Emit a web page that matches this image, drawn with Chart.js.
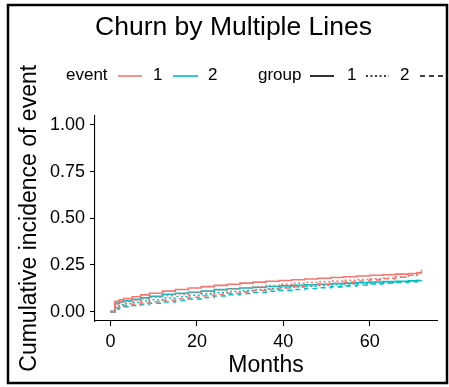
<!DOCTYPE html>
<html>
<head>
<meta charset="utf-8">
<script src="https://cdn.jsdelivr.net/npm/chart.js@4"></script>
<style>
html,body{margin:0;padding:0;background:#fff}
canvas{display:block}
</style>
</head>
<body>
<canvas id="c" width="449" height="387"></canvas>
<script>
const TITLE = 'Churn by Multiple Lines';
const X_TITLE = 'Months';
const Y_TITLE = 'Cumulative incidence of event';

const months = [0,1,2,3,5,7,9,12,15,18,21,24,27,30,33,36,39,42,45,48,51,54,57,60,63,66,69,71,72];

// event 1 (red) / event 2 (cyan), group 1 solid, 2 dotted, 3 dashed
const ev1grp1 = [0,.055,.063,.07,.08,.09,.099,.11,.119,.127,.134,.141,.147,.153,.158,.163,.167,.171,.175,.179,.183,.187,.191,.195,.198,.201,.204,.208,.212];
const ev2grp1 = [0,.045,.052,.058,.066,.074,.082,.093,.099,.104,.11,.118,.123,.127,.131,.135,.138,.141,.144,.147,.15,.153,.156,.159,.161,.163,.165,.167,.168];
const ev1grp2 = [0,.04,.048,.054,.062,.07,.077,.086,.094,.102,.109,.116,.122,.128,.134,.14,.146,.152,.156,.16,.164,.168,.172,.176,.18,.186,.195,.205,.218];
const ev2grp2 = [0,.03,.037,.043,.05,.057,.064,.073,.081,.088,.095,.102,.108,.113,.118,.123,.128,.132,.136,.14,.144,.148,.151,.154,.157,.16,.163,.166,.17];
const ev1grp3 = [0,.022,.028,.033,.04,.047,.053,.061,.069,.077,.085,.092,.099,.106,.113,.12,.127,.134,.14,.146,.152,.158,.164,.17,.176,.184,.195,.21,.225];
const ev2grp3 = [0,.015,.021,.026,.033,.039,.045,.052,.06,.068,.076,.084,.091,.097,.103,.109,.114,.119,.124,.128,.133,.138,.143,.148,.152,.156,.16,.163,.165];

const xTicks = [0,20,40,60];
const yTicks = [0,0.25,0.5,0.75,1];

const RED = '#F8766D', CYAN = '#00BFC4';
const FONT = '"Liberation Sans", Arial, sans-serif';
const DOT = [2,2.5], DASH = [5,4];

function pts(vals){ return months.map(function(m,i){ return {x:m, y:vals[i]}; }); }
function ds(label, vals, color, dash){
  return {label:label, data:pts(vals), borderColor:color, backgroundColor:color, borderDash:dash,
    borderWidth:1.6, pointRadius:0, stepped:true, fill:false};
}

const datasets = [
  ds('1-3', ev1grp3, RED, DASH),
  ds('2-3', ev2grp3, CYAN, DASH),
  ds('1-2', ev1grp2, RED, DOT),
  ds('2-2', ev2grp2, CYAN, DOT),
  ds('1-1', ev1grp1, RED, []),
  ds('2-1', ev2grp1, CYAN, [])
];

function seg(ctx, x1, x2, y, color, dash){
  ctx.save();
  ctx.strokeStyle = color; ctx.lineWidth = 1.6; ctx.setLineDash(dash);
  ctx.beginPath(); ctx.moveTo(x1, y); ctx.lineTo(x2, y); ctx.stroke();
  ctx.restore();
}

const deco = {
  id:'deco',
  beforeDraw:function(chart){
    const ctx = chart.ctx;
    ctx.save(); ctx.fillStyle = '#fff'; ctx.fillRect(0,0,chart.width,chart.height); ctx.restore();
  },
  afterDraw:function(chart){
    const ctx = chart.ctx;
    ctx.save();
    ctx.fillStyle = '#000';
    ctx.textBaseline = 'middle';
    ctx.textAlign = 'center';
    ctx.font = '26.5px ' + FONT;
    ctx.fillText(TITLE, 233.5, 28);

    // legend row
    const ly = 76;
    ctx.textAlign = 'left';
    ctx.font = '17px ' + FONT;
    ctx.fillText('event', 66, ly - 1);
    seg(ctx, 118, 142, ly, RED, []);
    ctx.fillText('1', 153, ly - 1);
    seg(ctx, 173, 198, ly, CYAN, []);
    ctx.fillText('2', 208, ly - 1);
    ctx.fillText('group', 258, ly - 1);
    seg(ctx, 310, 334, ly, '#000', []);
    ctx.fillText('1', 347, ly - 1);
    seg(ctx, 366, 389, ly, '#000', DOT);
    ctx.fillText('2', 400, ly - 1);
    seg(ctx, 420, 447, ly, '#000', DASH);

    // outer frame
    ctx.strokeStyle = '#000'; ctx.lineWidth = 2.5; ctx.setLineDash([]);
    ctx.strokeRect(8, 5, 439, 378);
    ctx.restore();
  }
};

new Chart(document.getElementById('c'), {
  type:'line',
  data:{datasets:datasets},
  plugins:[deco],
  options:{
    responsive:false, animation:false,
    layout:{padding:{top:115.6, right:12, left:0, bottom:0}},
    plugins:{legend:{display:false}, title:{display:false}, tooltip:{enabled:false}},
    scales:{
      x:{
        type:'linear', min:-3.6, max:75.6,
        afterBuildTicks:function(s){ s.ticks = xTicks.map(function(v){ return {value:v}; }); },
        afterFit:function(s){ s.height = 66; },
        grid:{drawOnChartArea:false, drawTicks:true, tickLength:5, tickColor:'#000', tickWidth:1.1},
        border:{display:true, color:'#000', width:1.1},
        ticks:{color:'#000', font:{family:FONT, size:18}, padding:5, maxRotation:0, autoSkip:false},
        title:{display:true, text:X_TITLE, color:'#000', font:{family:FONT, size:23}, padding:{top:0, bottom:8}}
      },
      y:{
        type:'linear', min:-0.05, max:1.05,
        afterBuildTicks:function(s){ s.ticks = yTicks.map(function(v){ return {value:v}; }); },
        afterFit:function(s){ s.width = 95; },
        grid:{drawOnChartArea:false, drawTicks:true, tickLength:5, tickColor:'#000', tickWidth:1.1},
        border:{display:true, color:'#000', width:1.1},
        ticks:{color:'#000', font:{family:FONT, size:18}, padding:5, callback:function(v){ return Number(v).toFixed(2); }},
        title:{display:true, text:Y_TITLE, color:'#000', font:{family:FONT, size:23}, padding:{top:16.2, bottom:0}}
      }
    }
  }
});
</script>
</body>
</html>
